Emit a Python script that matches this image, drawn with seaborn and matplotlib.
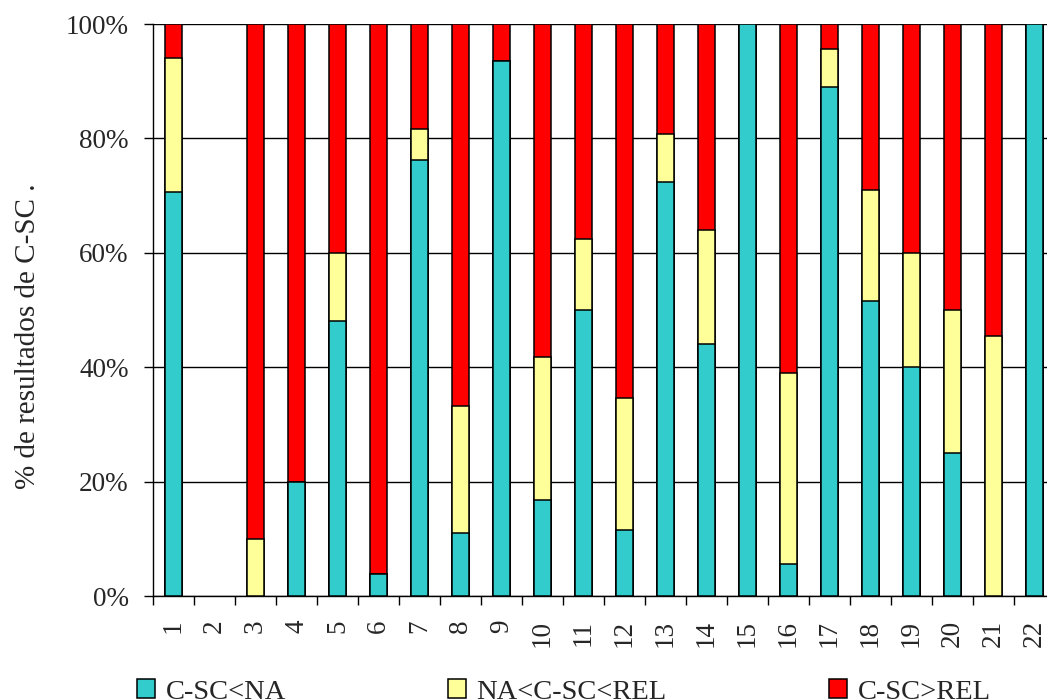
import matplotlib
matplotlib.use("Agg")
import matplotlib.pyplot as plt
from matplotlib.patches import Patch
from matplotlib.ticker import FixedLocator
from matplotlib import font_manager
import numpy as np
import pandas as pd
import seaborn as sns

# Stations 1..22 and the share (%) of C-SC results in each band
categories = [str(i) for i in range(1, 23)]
below_na = [70.6, 0, 0, 20, 48, 3.8, 76.3, 11.1, 93.5, 16.7, 50, 11.5,
            72.3, 44, 100, 5.6, 88.9, 51.6, 40, 25, 0, 100]
between = [23.5, 0, 10, 0, 12, 0, 5.3, 22.2, 0, 25, 12.5, 23.1,
           8.5, 20, 0, 33.3, 6.7, 19.4, 20, 25, 45.5, 0]
above_rel = [5.9, 0, 90, 80, 40, 96.2, 18.4, 66.7, 6.5, 58.3, 37.5, 65.4,
             19.2, 36, 0, 61.1, 4.4, 29.0, 40, 50, 54.5, 0]
series_names = ["C-SC<NA", "NA<C-SC<REL", "C-SC>REL"]
colors = ["#33CCCC", "#FFFF99", "#FF0000"]
y_ticks = [0, 20, 40, 60, 80, 100]
y_tick_labels = ["0%", "20%", "40%", "60%", "80%", "100%"]

sns.set_theme(style="white")

# Prefer a Times-like serif face
installed = {f.name for f in font_manager.fontManager.ttflist}
serif_choice = [n for n in ["Liberation Serif", "Times New Roman", "Nimbus Roman",
                            "TeX Gyre Termes", "DejaVu Serif"] if n in installed]
plt.rcParams["font.family"] = serif_choice + ["DejaVu Sans"]

df = pd.DataFrame({"cat": categories, "c1": below_na, "c2": between, "c3": above_rel})
df["lvl1"] = df["c1"]
df["lvl2"] = df["c1"] + df["c2"]
df["lvl3"] = df["c1"] + df["c2"] + df["c3"]

fig = plt.figure(figsize=(10.47, 7.0), dpi=100)
ax = fig.add_axes([153 / 1047, 1 - 596 / 700, 902 / 1047, 572 / 700])

# Stack by layering cumulative totals, tallest first
for col, color in zip(["lvl3", "lvl2", "lvl1"], colors[::-1]):
    sns.barplot(data=df, x="cat", y=col, order=categories, color=color,
                width=0.4, edgecolor="black", linewidth=1.1, saturation=1,
                ax=ax, zorder=3)

# Empty segments should not leave an outline on the baseline
for p in ax.patches:
    if p.get_height() == 0:
        p.set_visible(False)

ax.set_xlim(-0.5, len(categories) - 0.5)
ax.set_ylim(0, 100)
ax.set_yticks(y_ticks)
ax.set_yticklabels(y_tick_labels)
ax.set_xlabel("")
ax.set_ylabel("")

ax.set_axisbelow(True)
ax.yaxis.grid(True, color="black", linewidth=1.0)
ax.xaxis.grid(False)

for side in ["top", "right"]:
    ax.spines[side].set_visible(False)
for side in ["left", "bottom"]:
    ax.spines[side].set_color("black")
    ax.spines[side].set_linewidth(1.0)

ax.tick_params(axis="y", which="major", direction="out", length=6.5, width=1,
               color="black", pad=11, labelsize=19.5, left=True)
ax.tick_params(axis="x", which="major", length=0, pad=17, labelsize=19.5,
               labelrotation=90)
ax.xaxis.set_minor_locator(FixedLocator(np.arange(-0.5, len(categories), 1.0)))
ax.tick_params(axis="x", which="minor", direction="out", length=6.5, width=1,
               color="black", bottom=True)
for lbl in ax.get_xticklabels():
    lbl.set_verticalalignment("top")
    lbl.set_horizontalalignment("center")

fig.text(28 / 1047, 1 - 336 / 700, "% de resultados de C-SC .", rotation=90,
         ha="center", va="center", fontsize=21)

handles = [Patch(facecolor=c, edgecolor="black", linewidth=1.1) for c in colors]
fig.legend(handles, series_names, ncol=3, loc="center left",
           bbox_to_anchor=(137 / 1047, 1 - 692 / 700), frameon=False,
           fontsize=20.5, handlelength=0.62, handleheight=0.62,
           handletextpad=0.38, columnspacing=5.7, borderpad=0, borderaxespad=0)

fig.savefig("out.png", dpi=100, facecolor="white")
